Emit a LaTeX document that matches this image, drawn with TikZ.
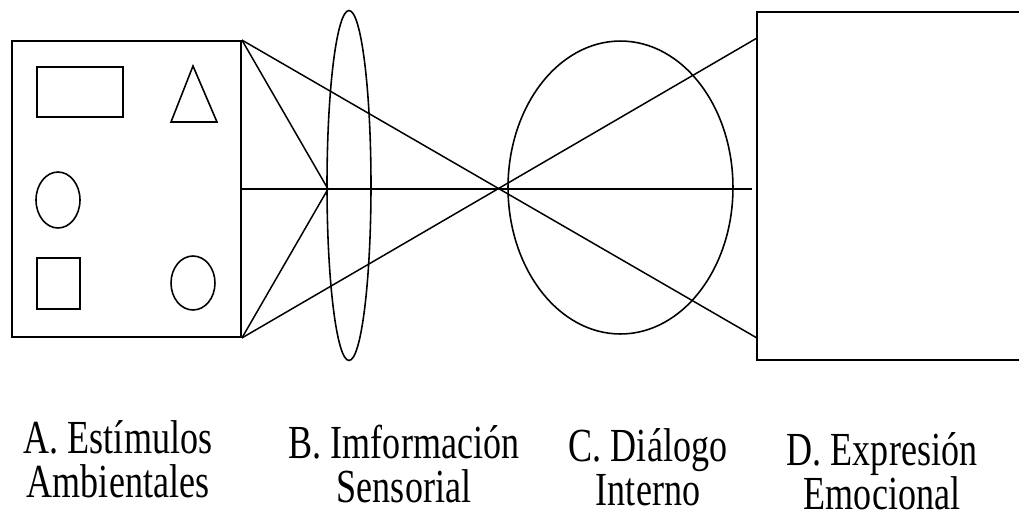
\documentclass[tikz,border=0pt]{standalone}
\usepackage{fontspec}
\setmainfont[FakeStretch=0.76]{Liberation Serif}
\usetikzlibrary{shapes.geometric,positioning,calc}
\tikzset{
  box/.style={draw=black,line width=1.1pt,inner sep=0pt},
  shp/.style={draw=black,line width=0.9pt,inner sep=0pt},
  oval/.style={ellipse,draw=black,line width=0.9pt,inner sep=0pt},
  ray/.style={draw=black,line width=0.85pt},
  lbl/.style={align=center,inner sep=0pt,font=\fontsize{27pt}{25pt}\selectfont},
}

\begin{document}
\begin{tikzpicture}[x=0.02cm,y=-0.02cm]
  \useasboundingbox (0,0) rectangle (1019,522);
  % A: the stimuli box and what is inside it
  \node[box,minimum width=4.58cm,minimum height=5.92cm] (A) at (126.5,189) {};
  \node[shp,minimum width=1.72cm,minimum height=1.0cm] (rect) at (80,92) {};
  \node[shp,minimum width=0.86cm,minimum height=1.02cm] (sq) at (58.5,283.5) {};
  \node[oval,minimum width=0.88cm,minimum height=1.12cm] (circ1) at (58,200) {};
  \node[oval,minimum width=0.88cm,minimum height=1.08cm] (circ2) at (193,283) {};
  \coordinate (t1) at (193,66);
  \coordinate (t2) at (217,122);
  \coordinate (t3) at (171,122);
  \draw[shp] (t1) -- (t2) -- (t3) -- cycle;

  % B: the lens, C: the inner ellipse, D: the output box
  \node[oval,minimum width=0.88cm,minimum height=7.0cm] (B) at (349,185.5) {};
  \node[oval,minimum width=4.5cm,minimum height=5.86cm] (C) at (620.5,187.5) {};
  \node[box,minimum width=5.3cm,minimum height=6.96cm] (D) at (889.5,186) {};

  \coordinate (f) at (328,189);
  \coordinate (d1) at (757,38);
  \coordinate (d2) at (757,338);
  \coordinate (h) at (752,189);

  \draw[ray] (A.north east) -- (f);
  \draw[ray] (A.south east) -- (f);
  \draw[ray] (A.north east) -- (d2);
  \draw[ray] (A.south east) -- (d1);
  \draw[ray] (A.east) -- (h);

  \node[lbl] (la) at (118,459) {A. Estímulos\\Ambientales};
  \node[lbl] (lb) at (404,464) {B. Imformación\\Sensorial};
  \node[lbl] (lc) at (648,467) {C. Diálogo\\Interno};
  \node[lbl] (ld) at (882,471) {D. Expresión\\Emocional};
\end{tikzpicture}
\end{document}
